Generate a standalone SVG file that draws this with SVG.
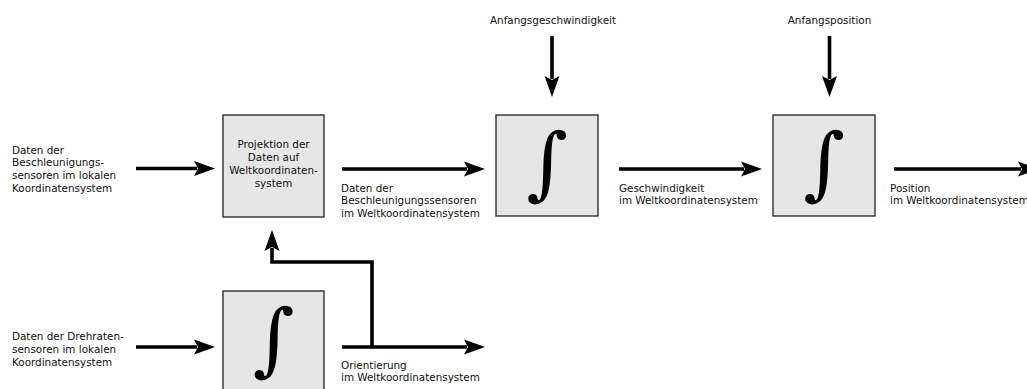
<svg xmlns="http://www.w3.org/2000/svg" width="1027" height="389" viewBox="0 0 1027 389">
<style>
.box{fill:#e6e6e6;stroke:#222;stroke-width:1.3}
.t{font-family:"DejaVu Sans",sans-serif;font-size:10.4px;fill:#111}
.c{text-anchor:middle}
.int{font-family:"DejaVu Serif",serif;font-size:80px;text-anchor:middle;fill:#000}
.ln{fill:none;stroke:#000;stroke-width:3.6;stroke-linecap:butt;stroke-linejoin:miter}
</style>
<defs>
<marker id="ah" markerUnits="userSpaceOnUse" orient="auto" refX="3" refY="0" markerWidth="30" markerHeight="20" viewBox="0 -10 30 20" overflow="visible">
<path d="M0,-7.5 L21,0 L0,7.5 L4,0 Z" fill="#000"/>
</marker>
</defs>
<rect width="1027" height="389" fill="#fff"/>
<g id="connectors">
<line class="ln" x1="136" y1="168.5" x2="197" y2="168.5" marker-end="url(#ah)"/>
<line class="ln" x1="342" y1="169" x2="467" y2="169" marker-end="url(#ah)"/>
<line class="ln" x1="619" y1="169" x2="744" y2="169" marker-end="url(#ah)"/>
<line class="ln" x1="894" y1="169" x2="1021" y2="169" marker-end="url(#ah)"/>
<line class="ln" x1="552" y1="36" x2="552" y2="79" marker-end="url(#ah)"/>
<line class="ln" x1="829.5" y1="36" x2="829.5" y2="79" marker-end="url(#ah)"/>
<line class="ln" x1="136" y1="347" x2="197" y2="347" marker-end="url(#ah)"/>
<line class="ln" x1="342" y1="347" x2="467" y2="347" marker-end="url(#ah)"/>
<polyline class="ln" points="372,347 372,262 272,262 272,248" marker-end="url(#ah)"/>
</g>
<g id="label-in1">
<text class="t" x="12" y="153.5">Daten der</text>
<text class="t" x="12" y="166.3">Beschleunigungs-</text>
<text class="t" x="12" y="179.1">sensoren im lokalen</text>
<text class="t" x="12" y="191.9">Koordinatensystem</text>
</g>
<g id="projektion">
<rect class="box" x="223" y="115" width="101" height="102"/>
<text class="t c" x="273.5" y="148">Projektion der</text>
<text class="t c" x="273.5" y="161">Daten auf</text>
<text class="t c" x="273.5" y="174">Weltkoordinaten-</text>
<text class="t c" x="273.5" y="187">system</text>
</g>
<g id="label-mid1">
<text class="t" x="341" y="191.5">Daten der</text>
<text class="t" x="341" y="204.3">Beschleunigungssensoren</text>
<text class="t" x="341" y="217.1">im Weltkoordinatensystem</text>
</g>
<g id="label-v0">
<text class="t c" x="553" y="23.5">Anfangsgeschwindigkeit</text>
</g>
<g id="integral-v">
<rect class="box" x="496" y="115" width="102" height="101"/>
<text class="int" x="547" y="190">∫</text>
</g>
<g id="label-v">
<text class="t" x="619" y="191.5">Geschwindigkeit</text>
<text class="t" x="619" y="204.3">im Weltkoordinatensystem</text>
</g>
<g id="label-p0">
<text class="t c" x="829.5" y="23.5">Anfangsposition</text>
</g>
<g id="integral-p">
<rect class="box" x="773" y="115" width="102" height="101"/>
<text class="int" x="824" y="190">∫</text>
</g>
<g id="label-p">
<text class="t" x="890" y="191.5">Position</text>
<text class="t" x="890" y="204.3">im Weltkoordinatensystem</text>
</g>
<g id="label-in2">
<text class="t" x="12" y="340">Daten der Drehraten-</text>
<text class="t" x="12" y="352.8">sensoren im lokalen</text>
<text class="t" x="12" y="365.6">Koordinatensystem</text>
</g>
<g id="integral-o">
<rect class="box" x="223" y="291" width="101" height="102"/>
<text class="int" x="273.5" y="366">∫</text>
</g>
<g id="label-o">
<text class="t" x="341" y="369">Orientierung</text>
<text class="t" x="341" y="381">im Weltkoordinatensystem</text>
</g>
</svg>
